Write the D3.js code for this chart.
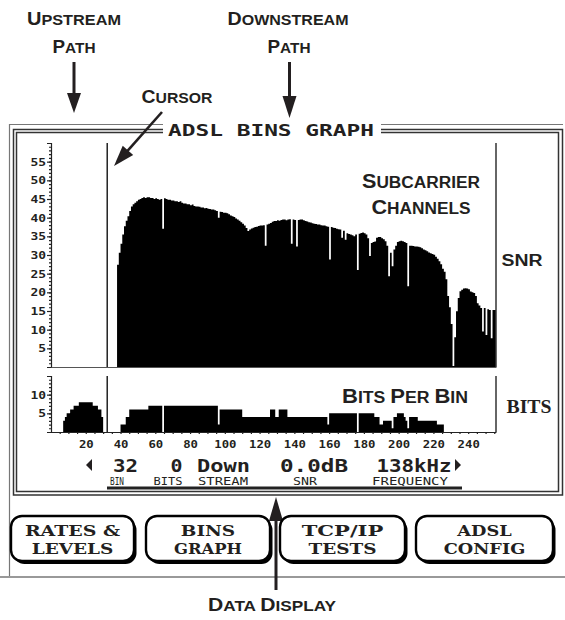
<!DOCTYPE html>
<html><head><meta charset="utf-8">
<script src="https://cdn.jsdelivr.net/npm/d3@7"></script>
<style>html,body{margin:0;padding:0;background:#fff;}svg{display:block;}</style>
</head><body><svg id="c" width="565" height="620"></svg>
<script>
// ---------------- DATA ----------------
const snrStartBin = 38;
const snrValues = [
 27.4,30.6,33,35.5,37.7,39.2,40.4,41.8,43,43.6,
 44,44.4,44.8,45,45.3,45.5,45.3,45.5,45.5,45.3,
 45.3,45,45.2,45,44.8,45,37,45.2,45,44.8,
 44.8,44.6,44.6,44.4,44.4,44.2,44.4,44,43.8,43.8,
 43.6,43.6,43.3,43.5,43.1,43,43,42.9,42.7,42.7,
 42.5,42.6,42.4,42.3,42.2,42.2,42,41.8,40,41.6,
 41.5,41.3,41.3,41.2,40.9,40.6,40.4,40.2,39.8,39.5,
 39.2,38.8,38.4,37.9,37.2,36.4,36.8,37.1,37.3,37.5,
 37.6,37.8,37.9,37.9,38,32.5,38.2,38.4,38.6,38.9,
 39.1,39.1,39.3,39.2,39.4,39.5,39.5,39.3,39.5,39.6,
 33,39.5,39.4,32.3,39.4,39.5,39.5,39.3,39.1,39,
 38.8,38.7,38.5,38.4,38.3,38.2,38.2,38,37.9,37.9,
 37.7,37.6,28.8,37.5,37.3,37.2,37,36.9,36.8,34.6,
 36.5,34.1,35.8,35.6,35.5,35.3,35,35.5,26,35.7,
 35.9,36,35.8,35.5,34.5,29.7,33.2,33.5,33.6,34.6,
 34.8,34.8,34.5,34.2,33.7,32.5,24.3,30.6,27,31.5,
 32.5,33.5,33.7,33.8,33.7,33.5,33.2,21.6,32.5,32.5,
 32.4,32.3,32.3,32.2,32.1,31.8,31.5,31.3,31,30.7,
 30.5,30.3,30.1,29.5,29,28.3,27.5,26.3,25.5,23.5,
 19,16,11.5,0.3,8,14.9,18.5,20.3,20.7,21,
 21.1,21,20.8,20.2,20,19.8,19,17.1,16.5,15.8,
 9.5,15.8,8.6,15.5,15.3,7.7,15.3,15.3
];
const bitsStartBin = 7;
const bitsValues = [
 3,4,5,5,6,6,7,7,7,8,8,8,8,8,8,8,8,7,7,7,6,6,4,
 0,0,0,0,0,0,0,0,0,0,
 2,2,2,4,4,
 6,6,6,6,6,6,6,6,6,6,6,
 7,7,7,7,7,7,7,7,
 0,
 7,7,7,7,7,7,7,7,7,7,7,7,7,7,7,7,7,7,7,7,7,7,7,7,7,7,7,7,7,7,7,
 2,
 6,6,6,6,6,6,6,6,6,6,6,6,6,
 4,4,4,4,4,4,4,4,4,4,4,4,4,4,4,4,
 6,6,6,4,4,6,6,6,6,6,
 4,4,4,4,4,4,4,4,4,4,4,4,4,4,4,4,4,4,4,4,4,4,4,
 2,
 5,5,5,5,5,5,5,5,5,5,5,5,5,5,5,5,
 0,
 5,5,5,5,5,5,5,5,5,
 4,4,4,2,2,3,3,3,3,3,1,
 4,4,5,5,5,5,4,3,1,
 4,4,4,4,4,3,3,3,3,3,3,3,3,
 3,3,3,2,2,2,2,
 0,0,0,0,0,0,0,0,0,0,0,0,0,0,0,0,0,0,0,0,0,0,0,0,0,0,0,0,0,0
];
const snrTicks = [5,10,15,20,25,30,35,40,45,50,55];
const bitsTicks = [5,10];
const binTicks = [20,40,60,80,100,120,140,160,180,200,220,240];
const cursorBin = 32;
const readoutValues = ["32","0","Down","0.0dB","138kHz"];
const readoutLabels = ["BIN","BITS","STREAM","SNR","FREQUENCY"];
const buttonLines = [["RATES &","LEVELS"],["BINS","GRAPH"],["TCP/IP","TESTS"],["ADSL","CONFIG"]];

// ---------------- DRAW ----------------
const ink = '#231f20';
const svg = d3.select('#c');
const x = d3.scaleLinear().domain([0,256]).range([51,496]);
const ySnr = d3.scaleLinear().domain([0,60]).range([367,143]);
const yBits = d3.scaleLinear().domain([0,15]).range([432,376]);
const lcd = "'DejaVu Sans Mono', monospace";

// screen border (thin gray)
svg.append('path').attr('d','M9.5,577 V124.5 H163 M381,124.5 H563')
  .attr('fill','none').attr('stroke','#777').attr('stroke-width',1.2);
svg.append('line').attr('x1',0).attr('x2',565).attr('y1',577).attr('y2',577)
  .attr('stroke','#999').attr('stroke-width',2);
// double frame
[[13.5,129.5,562.5,495],[16.5,132.5,558.5,491.5]].forEach(([x0,y0,x1,y1])=>{
  svg.append('path').attr('d',`M163,${y0} H${x0} V${y1} H${x1} V${y0} H381`)
    .attr('fill','none').attr('stroke','#333').attr('stroke-width',1.5);
});
// title
svg.append('text').attr('x',168).attr('y',135.5).attr('font-family',lcd).attr('font-weight','bold')
  .attr('font-size',16.5).attr('fill',ink).attr('textLength',206).attr('lengthAdjust','spacingAndGlyphs')
  .text('ADSL BINS GRAPH');

// bars as stepped areas (one bar per bin, no seams)
function binSteps(start, values){
  const pts = values.map((v,i)=>({bin:start+i, v}));
  pts.push({bin:start+values.length, v:values[values.length-1]});
  return pts;
}
const snrArea = d3.area().curve(d3.curveStepAfter)
  .x(d=>x(d.bin)).y0(ySnr(0)).y1(d=>ySnr(d.v));
svg.append('path').datum(binSteps(snrStartBin, snrValues)).attr('d',snrArea).attr('fill','#000');
const bitsArea = d3.area().curve(d3.curveStepAfter)
  .x(d=>x(d.bin)).y0(yBits(0)).y1(d=>yBits(d.v));
svg.append('path').datum(binSteps(bitsStartBin, bitsValues)).attr('d',bitsArea).attr('fill','#000');

// axes
function styleAxis(g){
  g.selectAll('path,line').attr('stroke','#222').attr('stroke-width',1.2);
  g.selectAll('text').attr('font-family',lcd).attr('font-weight','bold').attr('font-size',11).attr('fill',ink);
}
function stretch(w){ return g=>g.selectAll('text').each(function(d){d3.select(this).attr('textLength',String(d).length*w).attr('lengthAdjust','spacingAndGlyphs');}); }
svg.append('g').attr('transform','translate(51,0)')
  .call(d3.axisLeft(ySnr).tickValues(d3.range(0,61)).tickSize(2).tickSizeOuter(4).tickFormat(''))
  .call(styleAxis);
svg.append('g').attr('transform','translate(51,0)')
  .call(d3.axisLeft(ySnr).tickValues(snrTicks).tickSize(4).tickPadding(1))
  .call(g=>g.select('.domain').remove()).call(styleAxis).call(stretch(7.8));
svg.append('g').attr('transform','translate(51,0)')
  .call(d3.axisLeft(yBits).tickValues(d3.range(0,16)).tickSize(2).tickSizeOuter(4).tickFormat(''))
  .call(styleAxis);
svg.append('g').attr('transform','translate(51,0)')
  .call(d3.axisLeft(yBits).tickValues(bitsTicks).tickSize(4).tickPadding(1))
  .call(g=>g.select('.domain').remove()).call(styleAxis).call(stretch(7.8));
svg.append('g').attr('transform','translate(0,367)')
  .call(d3.axisBottom(x).tickValues([]).tickSizeOuter(0))
  .call(g=>g.select('.domain').attr('stroke','#555').attr('stroke-width',1.2));
svg.append('g').attr('transform','translate(0,432)')
  .call(d3.axisBottom(x).tickValues(d3.range(5,256,5)).tickSize(2).tickSizeOuter(0).tickFormat(''))
  .call(styleAxis);
svg.append('g').attr('transform','translate(0,432)')
  .call(d3.axisBottom(x).tickValues(binTicks).tickSize(0).tickPadding(8))
  .call(g=>g.select('.domain').remove()).call(styleAxis).call(stretch(7.4));
// right borders of plots
svg.append('line').attr('x1',496).attr('x2',496).attr('y1',143).attr('y2',367).attr('stroke','#333').attr('stroke-width',1.5);
svg.append('line').attr('x1',496).attr('x2',496).attr('y1',376).attr('y2',432).attr('stroke','#333').attr('stroke-width',1.5);
// cursor
const cx = x(cursorBin)+0.6;
svg.append('line').attr('x1',cx).attr('x2',cx).attr('y1',143).attr('y2',367).attr('stroke','#222').attr('stroke-width',1.5);
svg.append('line').attr('x1',cx).attr('x2',cx).attr('y1',376).attr('y2',432).attr('stroke','#222').attr('stroke-width',1.5);

// readout line
const readX = [125.5,176.5,223.5,314,414];
const readW = [25,12,53,68,75];
readoutValues.forEach((t,i)=>{
  svg.append('text').attr('x',readX[i]-readW[i]/2).attr('y',471.5).attr('font-family',lcd).attr('font-weight','bold')
    .attr('font-size',17.5).attr('fill',ink).attr('textLength',readW[i]).attr('lengthAdjust','spacingAndGlyphs').text(t);
});
svg.append('path').attr('d','M92,459 V471 L86,465 Z').attr('fill',ink);
svg.append('path').attr('d','M455,459 V471 L461,465 Z').attr('fill',ink);
const labX = [117,168,223,305,410];
const labW = [14,29,50,24,76];
readoutLabels.forEach((t,i)=>{
  svg.append('text').attr('x',labX[i]-labW[i]/2).attr('y',485).attr('font-family',lcd)
    .attr('font-size',11).attr('fill',ink).attr('textLength',labW[i]).attr('lengthAdjust','spacingAndGlyphs').text(t);
});
svg.append('line').attr('x1',107).attr('x2',462).attr('y1',488).attr('y2',488).attr('stroke','#222').attr('stroke-width',3);

// right-side labels
svg.append('text').attr('x',522).attr('y',266).attr('text-anchor','middle').attr('font-family','Liberation Sans, Arial')
  .attr('font-weight','bold').attr('font-size',16).attr('fill',ink).attr('textLength',41).attr('lengthAdjust','spacingAndGlyphs').text('SNR');
svg.append('text').attr('x',529).attr('y',413).attr('text-anchor','middle').attr('font-family','Liberation Serif, serif')
  .attr('font-weight','bold').attr('font-size',18.5).attr('fill',ink).attr('textLength',45).attr('lengthAdjust','spacingAndGlyphs').text('BITS');

// small caps annotation helper
function smallCaps(cx, y, text, big, small, width){
  const t = svg.append('text').attr('x',cx).attr('y',y).attr('text-anchor','middle')
    .attr('font-family','Liberation Sans, Arial').attr('font-weight','bold').attr('fill',ink);
  text.split(' ').forEach((w,i)=>{
    if(i>0) t.append('tspan').attr('font-size',small).text(' ');
    t.append('tspan').attr('font-size',big).text(w[0]);
    t.append('tspan').attr('font-size',small).text(w.slice(1));
  });
  if(width) t.attr('textLength',width).attr('lengthAdjust','spacingAndGlyphs');
  return t;
}
smallCaps(74,25,'UPSTREAM',19,15.5,94);
smallCaps(74,53,'PATH',19,15.5,43);
smallCaps(288,25,'DOWNSTREAM',19,15.5,121);
smallCaps(289,53,'PATH',19,15.5,43);
smallCaps(177,103,'CURSOR',19,15.5,71);
smallCaps(421,188,'SUBCARRIER',20,16,118);
smallCaps(421,214,'CHANNELS',20,16,99);
smallCaps(405,403,'BITS PER BIN',20,16,126);
smallCaps(272,611,'DATA DISPLAY',19,15.5,128);

// arrows
function arrowV(xc, y0, y1, headLen, headW){
  const dir = Math.sign(y1-y0);
  svg.append('line').attr('x1',xc).attr('x2',xc).attr('y1',y0).attr('y2',y1-dir*headLen*0.8)
    .attr('stroke',ink).attr('stroke-width',3);
  svg.append('path').attr('d',`M${xc-headW/2},${y1-dir*headLen} L${xc+headW/2},${y1-dir*headLen} L${xc},${y1} Z`).attr('fill',ink);
}
arrowV(74,62,113,20,14);
arrowV(289.5,62,118,22,14);
arrowV(276,590,497,24,14);
(function(){
  const x0=162,y0=112,x1=114,y1=166; const L=Math.hypot(x1-x0,y1-y0);
  const ux=(x1-x0)/L, uy=(y1-y0)/L, hl=21, hw=14;
  const bx=x1-ux*hl, by=y1-uy*hl;
  svg.append('line').attr('x1',x0).attr('y1',y0).attr('x2',bx+ux*3).attr('y2',by+uy*3).attr('stroke',ink).attr('stroke-width',2.6);
  svg.append('path').attr('d',`M${bx-uy*hw/2},${by+ux*hw/2} L${bx+uy*hw/2},${by-ux*hw/2} L${x1},${y1} Z`).attr('fill',ink);
})();

// buttons
const btnX = [11,146,280,416];
const btnW = [123,124,125,137];
buttonLines.forEach((lines,i)=>{
  const g = svg.append('g');
  g.append('rect').attr('x',btnX[i]+2.5).attr('y',519).attr('width',btnW[i]).attr('height',45).attr('rx',11).attr('fill','#000');
  g.append('rect').attr('x',btnX[i]).attr('y',516).attr('width',btnW[i]).attr('height',45).attr('rx',11)
    .attr('fill','#fff').attr('stroke','#000').attr('stroke-width',2.4);
  lines.forEach((t,j)=>{
    g.append('text').attr('x',btnX[i]+btnW[i]/2).attr('y',536+j*18).attr('text-anchor','middle')
      .attr('font-family',"'DejaVu Serif', serif").attr('font-weight','bold').attr('font-size',15)
      .attr('fill',ink).attr('textLength',t.length*13.6).attr('lengthAdjust','spacingAndGlyphs').text(t);
  });
});
</script></body></html>
